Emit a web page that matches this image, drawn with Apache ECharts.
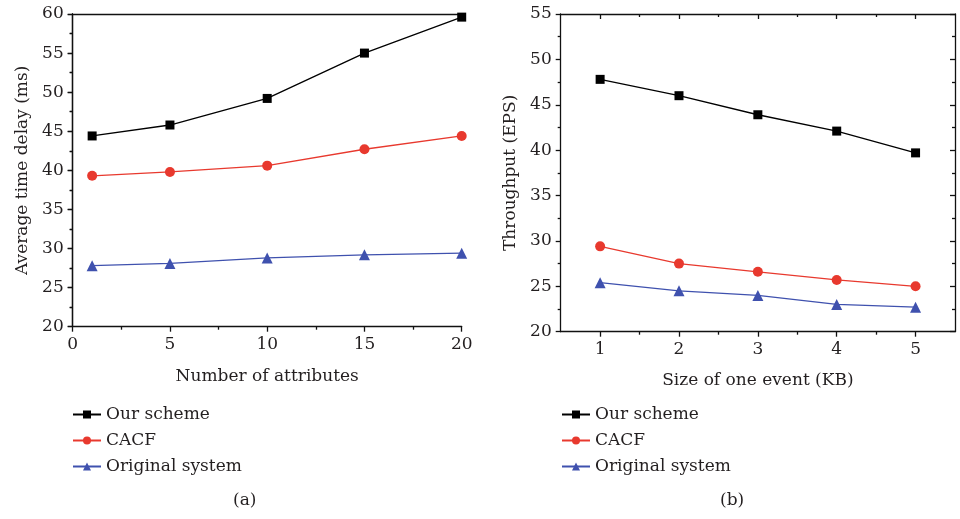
<!DOCTYPE html>
<html>
<head>
<meta charset="utf-8">
<script src="https://cdn.jsdelivr.net/npm/echarts@6/dist/echarts.min.js"></script>
<style>
html,body{margin:0;padding:0;background:#fff;}
#main{width:960px;height:519px;}
</style>
</head>
<body>
<div id="main"></div>
<script>
// ---- data ----
var seriesNames = ['Our scheme', 'CACF', 'Original system'];

var attrCounts = [1, 5, 10, 15, 20];
var delayOurs = [44.4, 45.8, 49.2, 55.0, 59.6];
var delayCACF = [39.3, 39.8, 40.6, 42.7, 44.4];
var delayOrig = [27.8, 28.1, 28.8, 29.2, 29.4];

var eventSizes = [1, 2, 3, 4, 5];
var tputOurs = [47.8, 46.0, 43.9, 42.1, 39.7];
var tputCACF = [29.4, 27.5, 26.6, 25.7, 25.0];
var tputOrig = [25.4, 24.5, 24.0, 23.0, 22.7];

var sizeTicks = [1, 2, 3, 4, 5];
var sizeMinorTicks = [1.5, 2.5, 3.5, 4.5];

var captions = ['(a)', '(b)'];

// ---- style ----
var FONT = 'DejaVu Serif';
var colors = ['#000000', '#e8392e', '#3f51ae'];
var symbols = ['rect', 'circle', 'triangle'];
var symbolSizes = [9, 10, 11];
var txt = {fontFamily: FONT, fontSize: 17, color: '#231f20'};
var lineStyle = {color: '#111', width: 1.3};

function pairs(xs, ys) { return xs.map(function (x, i) { return [x, ys[i]]; }); }

function mkSeries(name, idx, xi, yi, data) {
  return {
    name: name, type: 'line', xAxisIndex: xi, yAxisIndex: yi,
    data: data, symbol: symbols[idx], symbolSize: symbolSizes[idx],
    itemStyle: {color: colors[idx]},
    lineStyle: {color: colors[idx], width: 1.3},
    emphasis: {disabled: true}, animation: false, z: 3
  };
}

var option = {
  animation: false,
  textStyle: {fontFamily: FONT},
  title: [
    {text: captions[0], left: 228, top: 487, textStyle: {fontFamily: FONT, fontSize: 17, fontWeight: 'normal', color: '#231f20'}},
    {text: captions[1], left: 715, top: 487, textStyle: {fontFamily: FONT, fontSize: 17, fontWeight: 'normal', color: '#231f20'}}
  ],
  legend: [
    {orient: 'vertical', left: 67, top: 401, itemWidth: 28, itemHeight: 10, itemGap: 9,
     data: seriesNames, textStyle: txt, selectedMode: false},
    {orient: 'vertical', left: 556, top: 401, itemWidth: 28, itemHeight: 10, itemGap: 9,
     data: seriesNames, textStyle: txt, selectedMode: false}
  ],
  grid: [
    {left: 72.7, right: 498.3, top: 14, bottom: 192.3},
    {left: 560.7, right: 5, top: 14, bottom: 187.3}
  ],
  xAxis: [
    // 0: left chart bottom
    {type: 'value', gridIndex: 0, min: 0, max: 20, interval: 5, position: 'bottom',
     name: 'Number of attributes', nameLocation: 'middle', nameGap: 41, nameTextStyle: txt,
     axisLine: {show: true, lineStyle: lineStyle},
     axisTick: {show: true, inside: false, length: 5, lineStyle: lineStyle},
     minorTick: {show: true, splitNumber: 2, length: 3, lineStyle: lineStyle},
     axisLabel: {show: true, margin: 9, fontFamily: FONT, fontSize: 17, color: '#231f20'},
     splitLine: {show: false}},
    // 1: left chart top (plain frame)
    {type: 'value', gridIndex: 0, min: 0, max: 20, interval: 5, position: 'top',
     axisLine: {show: true, lineStyle: lineStyle}, axisTick: {show: false},
     axisLabel: {show: false}, splitLine: {show: false}},
    // 2: right chart bottom (major)
    {type: 'value', gridIndex: 1, min: 0.5, max: 5.5, position: 'bottom',
     name: 'Size of one event (KB)', nameLocation: 'middle', nameGap: 40, nameTextStyle: txt,
     axisLine: {show: true, lineStyle: lineStyle},
     axisTick: {show: true, inside: false, length: 5, customValues: sizeTicks, lineStyle: lineStyle},
     axisLabel: {show: true, margin: 9, customValues: sizeTicks, fontFamily: FONT, fontSize: 17, color: '#231f20'},
     splitLine: {show: false}},
    // 3: right chart bottom (minor)
    {type: 'value', gridIndex: 1, min: 0.5, max: 5.5, position: 'bottom',
     axisLine: {show: false},
     axisTick: {show: true, inside: false, length: 3, customValues: sizeMinorTicks, lineStyle: lineStyle},
     axisLabel: {show: false}, splitLine: {show: false}},
    // 4: right chart top (major, inward)
    {type: 'value', gridIndex: 1, min: 0.5, max: 5.5, position: 'top',
     axisLine: {show: true, lineStyle: lineStyle},
     axisTick: {show: true, inside: true, length: 5, customValues: sizeTicks, lineStyle: lineStyle},
     axisLabel: {show: false}, splitLine: {show: false}},
    // 5: right chart top (minor, inward)
    {type: 'value', gridIndex: 1, min: 0.5, max: 5.5, position: 'top',
     axisLine: {show: false},
     axisTick: {show: true, inside: true, length: 3, customValues: sizeMinorTicks, lineStyle: lineStyle},
     axisLabel: {show: false}, splitLine: {show: false}}
  ],
  yAxis: [
    // 0: left chart left
    {type: 'value', gridIndex: 0, min: 20, max: 60, interval: 5, position: 'left',
     name: 'Average time delay (ms)', nameLocation: 'middle', nameGap: 42, nameTextStyle: txt,
     axisLine: {show: true, lineStyle: lineStyle},
     axisTick: {show: true, inside: false, length: 5, lineStyle: lineStyle},
     minorTick: {show: true, splitNumber: 2, length: 3, lineStyle: lineStyle},
     axisLabel: {show: true, margin: 9, fontFamily: FONT, fontSize: 17, color: '#231f20'},
     splitLine: {show: false}},
    // 1: left chart right (inward)
    {type: 'value', gridIndex: 0, min: 20, max: 60, interval: 5, position: 'right',
     axisLine: {show: true, lineStyle: lineStyle},
     axisTick: {show: true, inside: true, length: 5, lineStyle: lineStyle},
     minorTick: {show: true, splitNumber: 2, length: 3, lineStyle: lineStyle},
     axisLabel: {show: false}, splitLine: {show: false}},
    // 2: right chart left
    {type: 'value', gridIndex: 1, min: 20, max: 55, interval: 5, position: 'left',
     name: 'Throughput (EPS)', nameLocation: 'middle', nameGap: 42, nameTextStyle: txt,
     axisLine: {show: true, lineStyle: lineStyle},
     axisTick: {show: true, inside: false, length: 5, lineStyle: lineStyle},
     minorTick: {show: true, splitNumber: 2, length: 3, lineStyle: lineStyle},
     axisLabel: {show: true, margin: 9, fontFamily: FONT, fontSize: 17, color: '#231f20'},
     splitLine: {show: false}},
    // 3: right chart right (inward)
    {type: 'value', gridIndex: 1, min: 20, max: 55, interval: 5, position: 'right',
     axisLine: {show: true, lineStyle: lineStyle},
     axisTick: {show: true, inside: true, length: 5, lineStyle: lineStyle},
     minorTick: {show: true, splitNumber: 2, length: 3, lineStyle: lineStyle},
     axisLabel: {show: false}, splitLine: {show: false}}
  ],
  series: [
    mkSeries(seriesNames[0], 0, 0, 0, pairs(attrCounts, delayOurs)),
    mkSeries(seriesNames[1], 1, 0, 0, pairs(attrCounts, delayCACF)),
    mkSeries(seriesNames[2], 2, 0, 0, pairs(attrCounts, delayOrig)),
    mkSeries(seriesNames[0], 0, 2, 2, pairs(eventSizes, tputOurs)),
    mkSeries(seriesNames[1], 1, 2, 2, pairs(eventSizes, tputCACF)),
    mkSeries(seriesNames[2], 2, 2, 2, pairs(eventSizes, tputOrig))
  ]
};

var chart = echarts.init(document.getElementById('main'), null, {renderer: 'canvas'});
chart.setOption(option);
</script>
</body>
</html>
